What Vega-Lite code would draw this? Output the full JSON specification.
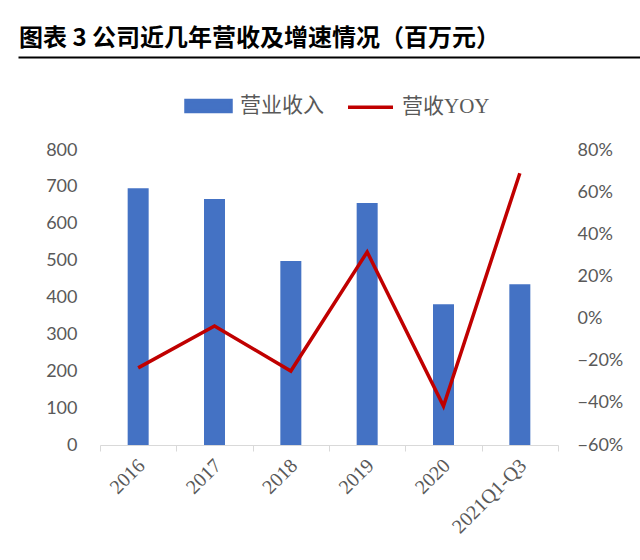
{
  "$schema": "https://vega.github.io/schema/vega-lite/v6.json",
  "autosize": "none",
  "width": 458,
  "height": 295,
  "padding": {"left": 100, "top": 150, "right": 82, "bottom": 115},
  "background": "white",
  "config": {"view": {"stroke": null}},
  "title": {
    "text": "图表 3 公司近几年营收及增速情况（百万元）",
    "anchor": "start",
    "frame": "group",
    "dx": -81,
    "offset": 6,
    "font": "Noto Sans CJK SC",
    "fontSize": 24,
    "fontWeight": "bold",
    "color": "#000000"
  },
  "data": {
    "values": [
      {"year": "2016", "rev": 696, "yoy": -0.234},
      {"year": "2017", "rev": 667, "yoy": -0.035},
      {"year": "2018", "rev": 499, "yoy": -0.249},
      {"year": "2019", "rev": 656, "yoy": 0.316},
      {"year": "2020", "rev": 382, "yoy": -0.415},
      {"year": "2021Q1-Q3", "rev": 436, "yoy": 0.69}
    ]
  },
  "layer": [
    {
      "layer": [
        {
          "mark": {"type": "bar", "size": 21},
          "encoding": {
            "x": {
              "field": "year", "type": "nominal", "sort": null,
              "scale": {"paddingInner": 0, "paddingOuter": 0},
              "axis": {
                "title": null, "labelAngle": -45, "labelFont": "Liberation Serif",
                "labelFontSize": 20, "labelColor": "#595959", "domainColor": "#D9D9D9",
                "tickColor": "#D9D9D9", "tickSize": 6, "tickBand": "extent", "labelPadding": 4,
                "labelOffset": -4
              }
            },
            "y": {
              "field": "rev", "type": "quantitative",
              "scale": {"domain": [0, 800], "nice": false},
              "axis": {
                "title": null, "values": [0, 100, 200, 300, 400, 500, 600, 700, 800],
                "grid": false, "domain": false, "ticks": false, "labelPadding": 23,
                "labelFont": "Lato", "labelFontSize": 18, "labelColor": "#595959"
              }
            },
            "color": {
              "datum": "营业收入",
              "scale": {"domain": ["营业收入", "营收YOY"], "range": ["#4472C4", "#C00000"]},
              "legend": {
                "title": null, "orient": "none", "legendX": 84, "legendY": -69,
                "direction": "horizontal", "columns": 2, "columnPadding": 17,
                "symbolSize": 2025, "labelOffset": 7,
                "labelFont": "Liberation Serif, Noto Sans CJK SC", "labelFontSize": 21, "labelColor": "#595959",
                "encode": {
                  "symbols": {
                    "update": {
                      "shape": {"signal": "datum.value === '营业收入' ? 'M-1,-0.245H1V0.245H-1Z' : 'M-1,0H1'"},
                      "fill": {"signal": "datum.value === '营业收入' ? '#4472C4' : 'transparent'"},
                      "stroke": {"signal": "datum.value === '营业收入' ? 'transparent' : '#C00000'"},
                      "strokeWidth": {"value": 3.5},
                      "opacity": {"value": 1}
                    }
                  }
                }
              }
            }
          }
        },
        {
          "mark": {"type": "line", "strokeWidth": 3.5},
          "encoding": {
            "x": {"field": "year", "type": "nominal", "sort": null},
            "y": {
              "field": "yoy", "type": "quantitative",
              "scale": {"domain": [-0.6, 0.8], "nice": false},
              "axis": {
                "title": null, "orient": "right", "format": ".0%",
                "values": [-0.6, -0.4, -0.2, 0, 0.2, 0.4, 0.6, 0.8],
                "grid": false, "domain": false, "ticks": false, "labelPadding": 19,
                "labelFont": "Lato", "labelFontSize": 18, "labelColor": "#595959"
              }
            },
            "color": {"datum": "营收YOY"}
          }
        }
      ],
      "resolve": {"scale": {"y": "independent"}}
    },
    {
      "mark": {"type": "point", "opacity": 0},
      "encoding": {
        "x": {
          "datum": 0, "type": "quantitative",
          "scale": {"domain": [0, 1], "range": [-82, 540], "nice": false, "zero": false},
          "axis": {
            "orient": "top", "offset": 93, "title": null, "labels": false, "ticks": false,
            "grid": false, "domainColor": "#000000", "domainWidth": 2
          }
        }
      }
    }
  ],
  "resolve": {"scale": {"x": "independent"}, "axis": {"x": "independent"}}
}
